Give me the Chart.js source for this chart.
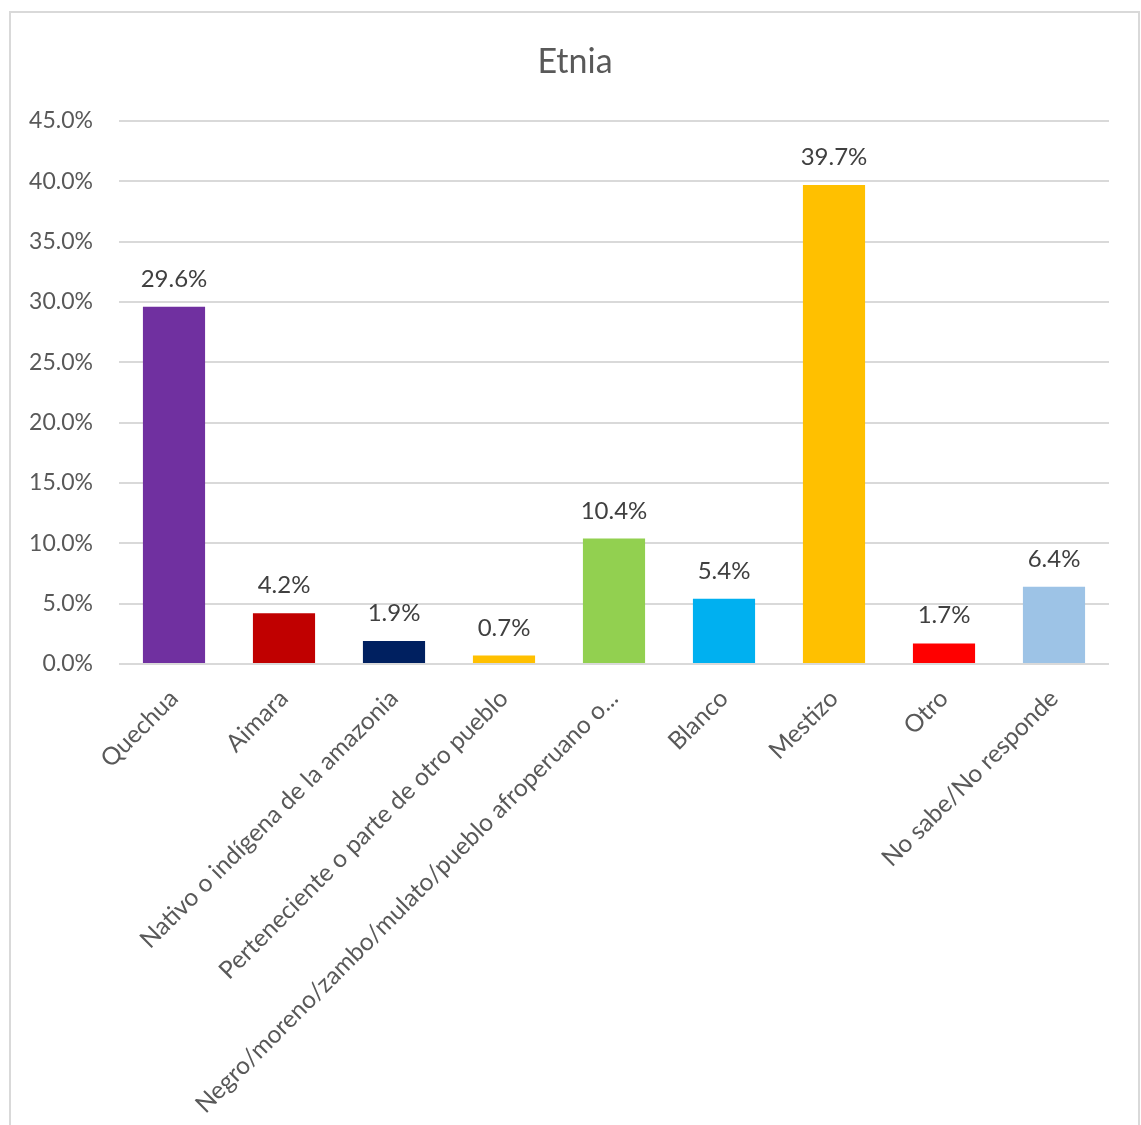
<!DOCTYPE html>
<html>
<head>
<meta charset="utf-8">
<script src="https://cdn.jsdelivr.net/npm/chart.js@4"></script>
<style>
html,body{margin:0;padding:0;background:#fff;}
#wrap{width:1141px;height:1125px;position:relative;}
</style>
</head>
<body>
<div id="wrap"><canvas id="c" width="1141" height="1125"></canvas></div>
<script>
const categories = [
  "Quechua",
  "Aimara",
  "Nativo o indígena de la amazonia",
  "Perteneciente o parte de otro pueblo",
  "Negro/moreno/zambo/mulato/pueblo afroperuano o...",
  "Blanco",
  "Mestizo",
  "Otro",
  "No sabe/No responde"
];
const values = [29.6, 4.2, 1.9, 0.7, 10.4, 5.4, 39.7, 1.7, 6.4];
const barColors = ["#7030A0", "#C00000", "#002060", "#FFC000", "#92D050", "#00B0F0", "#FFC000", "#FF0000", "#9DC3E6"];
const yTicks = [0, 5, 10, 15, 20, 25, 30, 35, 40, 45];
const chartTitle = "Etnia";

const FONT = "Lato, 'Open Sans', sans-serif";

const framePlugin = {
  id: 'frame',
  beforeDraw(chart) {
    const ctx = chart.ctx;
    ctx.save();
    ctx.fillStyle = '#fff';
    ctx.fillRect(0, 0, chart.width, chart.height);
    ctx.strokeStyle = '#d9d9d9';
    ctx.lineWidth = 2;
    ctx.strokeRect(10, 12, 1129, 1200);
    ctx.font = "34px " + FONT;
    ctx.fillStyle = '#595959';
    ctx.textAlign = 'center';
    ctx.textBaseline = 'alphabetic';
    ctx.fillText(chartTitle, 575, 73);
    ctx.restore();
  }
};

const labelPlugin = {
  id: 'valueLabels',
  afterDatasetsDraw(chart) {
    const ctx = chart.ctx;
    const meta = chart.getDatasetMeta(0);
    ctx.save();
    ctx.font = "24px " + FONT;
    ctx.fillStyle = '#404040';
    ctx.textAlign = 'center';
    ctx.textBaseline = 'alphabetic';
    meta.data.forEach((bar, i) => {
      ctx.fillText(values[i].toFixed(1) + '%', bar.x, bar.y - 20);
    });
    ctx.restore();
  }
};

new Chart(document.getElementById('c'), {
  type: 'bar',
  data: {
    labels: categories,
    datasets: [{
      data: values,
      backgroundColor: barColors,
      borderWidth: 0,
      categoryPercentage: 1,
      barPercentage: 0.565
    }]
  },
  options: {
    responsive: false,
    animation: false,
    layout: { padding: { left: 0, right: 32, top: 121, bottom: 0 } },
    plugins: {
      legend: { display: false },
      tooltip: { enabled: false },
      title: { display: false }
    },
    scales: {
      x: {
        grid: { display: false, drawTicks: false },
        border: { display: false },
        ticks: {
          color: '#595959',
          font: { family: FONT, size: 24.5 },
          maxRotation: 45,
          minRotation: 45,
          autoSkip: false,
          padding: 20
        },
        afterFit(scale) { scale.height = 461; }
      },
      y: {
        min: 0,
        max: 45,
        afterBuildTicks(scale) { scale.ticks = yTicks.map(v => ({ value: v })); },
        grid: { color: '#d9d9d9', lineWidth: 2, drawTicks: false },
        border: { display: false },
        ticks: {
          color: '#595959',
          font: { family: FONT, size: 23 },
          padding: 26,
          callback: v => Number(v).toFixed(1) + '%'
        },
        afterFit(scale) { scale.width = 119; }
      }
    }
  },
  plugins: [framePlugin, labelPlugin]
});
</script>
</body>
</html>
